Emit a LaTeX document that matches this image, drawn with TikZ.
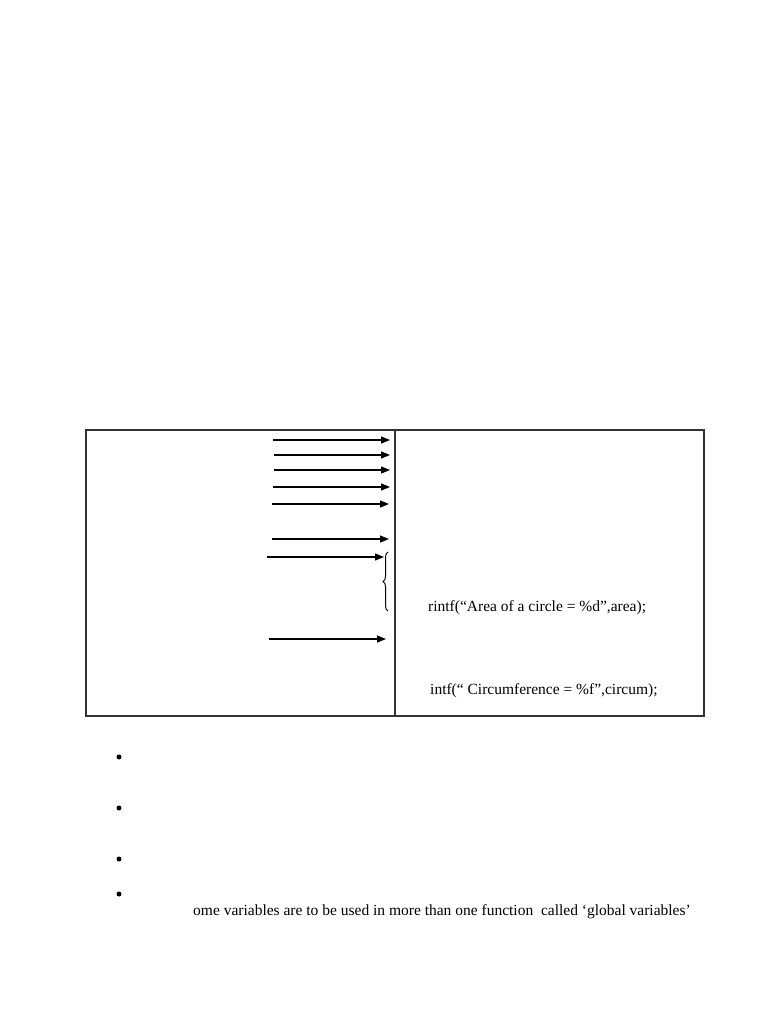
\documentclass[tikz,border=0pt]{standalone}
\usepackage{fontspec}
\setmainfont{Liberation Serif}
\usepackage{tikz}
\usetikzlibrary{arrows.meta}
\usetikzlibrary{decorations.pathreplacing}

\begin{document}
\begin{tikzpicture}[x=1pt,y=-1pt,
    arr/.style={line width=1.2pt,-{Triangle[length=9pt,width=7pt]}},
    code/.style={anchor=west,inner sep=0pt,font=\fontsize{15.5}{18}\selectfont},
    bul/.style={circle,fill=black,inner sep=0pt,minimum size=5pt}]
    \useasboundingbox (0,0) rectangle (768,1024);
    %% the table
    \draw[line width=1.2pt,black!80] (86,430) rectangle (704,716);
    \draw[line width=1.2pt,black!80] (395,430) -- (395,716);
    %% arrows of the left column
    \foreach \n/\xa/\xb/\y in {1/273/390/440, 2/274/390/455, 3/274/390/470,
                               4/273/390/487, 5/272/389/504, 6/272/389/539,
                               7/267/384/557, 8/269/386/639}{
        \coordinate (s\n) at (\xa,\y);
        \coordinate (e\n) at (\xb,\y);
        \draw[arr] (s\n) -- (e\n);
    }
    %% brace
    \coordinate (btop) at (388,552);
    \coordinate (bbot) at (388,611);
    \draw[line width=1pt,decorate,decoration={brace,amplitude=5pt}] (bbot) -- (btop);
    %% right column
    \node[code] (area) at (428,608) {rintf(“Area of a circle = \%d”,area);};
    \node[code] (circ) at (430,691) {intf(“ Circumference = \%f”,circum);};
    %% bullets
    \node[bul] (b1) at (119,757) {};
    \node[bul] (b2) at (119,808) {};
    \node[bul] (b3) at (119,859) {};
    \node[bul] (b4) at (119,894) {};
    \node[code] (glob) at (193,912) {ome variables are to be used in more than one function\ \ called ‘global variables’};
\end{tikzpicture}
\end{document}
